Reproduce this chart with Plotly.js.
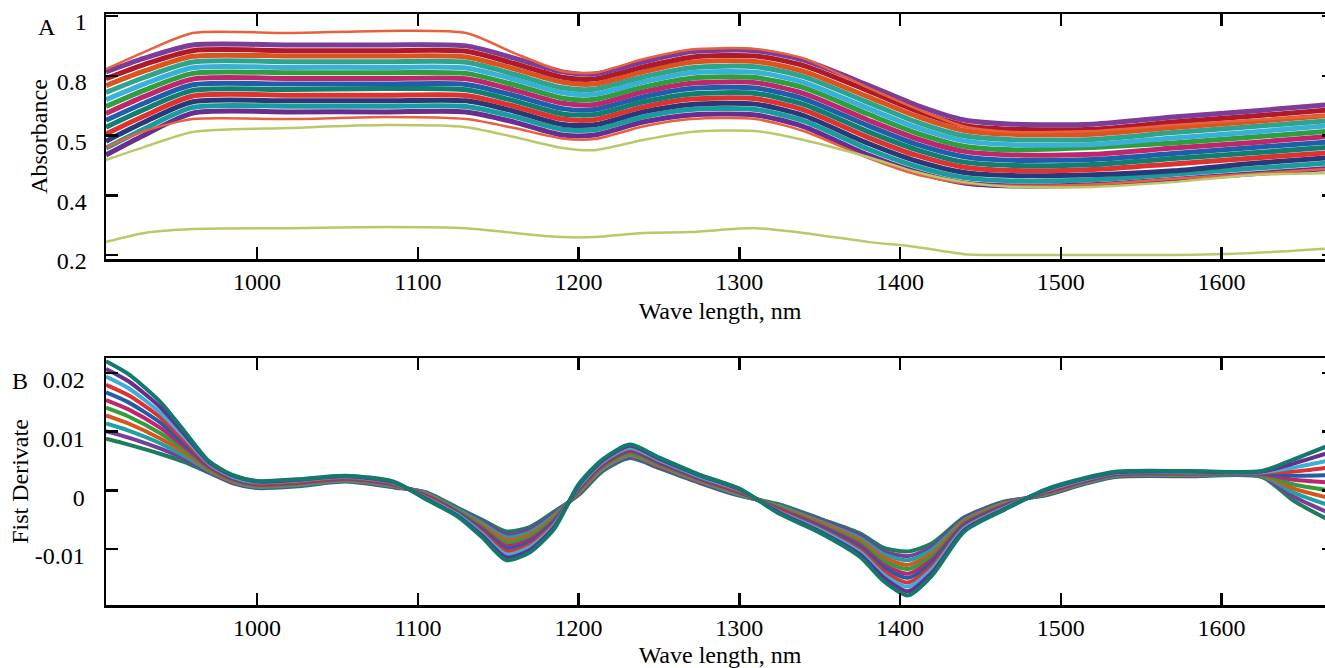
<!DOCTYPE html>
<html>
<head>
<meta charset="utf-8">
<script src="https://cdn.plot.ly/plotly-3.0.1.min.js"></script>
<style>
html,body{margin:0;padding:0;overflow:hidden;background:#fff;}
#chart{width:1340px;height:668px;}
</style>
</head>
<body>
<div id="chart"></div>
<script>
// ---------- Panel A: absorbance spectra ----------
const wlA = [906,930,960,1020,1080,1130,1160,1190,1210,1240,1270,1310,1340,1380,1410,1440,1470,1520,1570,1620,1670];

const sA00 = [.535,.602,.675,.679,.679,.679,.645,.602,.602,.645,.669,.669,.630,.535,.478,.441,.431,.435,.453,.472,.491];
const sA01 = [.558,.623,.694,.698,.698,.697,.663,.620,.619,.662,.687,.687,.649,.555,.497,.459,.448,.452,.470,.490,.509];
const sA02 = [.581,.645,.713,.716,.716,.716,.681,.637,.636,.679,.704,.705,.667,.574,.515,.476,.466,.469,.482,.507,.527];
const sA03 = [.605,.666,.732,.735,.735,.734,.698,.655,.653,.695,.722,.723,.686,.594,.534,.494,.483,.486,.505,.525,.544];
const sA04 = [.628,.688,.751,.754,.757,.753,.716,.672,.670,.712,.739,.741,.704,.613,.553,.511,.500,.503,.523,.542,.562];
const sA05 = [.651,.709,.770,.772,.772,.771,.734,.690,.687,.729,.757,.759,.723,.633,.571,.529,.517,.520,.540,.560,.580];
const sA06 = [.674,.731,.789,.791,.791,.790,.752,.708,.704,.746,.775,.777,.741,.652,.590,.547,.535,.537,.558,.577,.598];
const sA07 = [.697,.752,.808,.810,.810,.808,.770,.725,.721,.762,.792,.794,.760,.672,.609,.564,.552,.560,.575,.595,.616];
const sA08 = [.720,.773,.827,.828,.828,.826,.788,.743,.738,.779,.810,.812,.778,.691,.627,.582,.569,.570,.592,.612,.634];
const sA09 = [.744,.795,.846,.847,.847,.845,.805,.760,.755,.796,.827,.830,.797,.711,.646,.599,.586,.587,.610,.630,.651];
const sA10 = [.767,.816,.865,.866,.866,.863,.823,.778,.772,.813,.845,.848,.815,.730,.665,.617,.604,.604,.627,.647,.669];
const sA11 = [.790,.838,.884,.884,.884,.882,.841,.795,.789,.829,.862,.866,.834,.750,.683,.634,.621,.621,.645,.665,.687];
const sA12 = [.813,.859,.903,.903,.903,.900,.859,.813,.806,.846,.880,.884,.852,.769,.702,.652,.638,.638,.662,.682,.705];

const redTopA   = [.822,.880,.943,.943,.950,.943,.876,.815,.810,.855,.888,.890,.858,.760,.690,.630,.612,.615,.635,.652,.668];
const redLowA   = [.560,.615,.655,.655,.662,.655,.625,.590,.588,.630,.655,.655,.615,.525,.470,.440,.432,.436,.455,.472,.490];
const greenHiA  = [.518,.562,.612,.625,.635,.628,.595,.558,.551,.585,.612,.615,.585,.528,.478,.444,.428,.428,.444,.468,.474];
const greenLowA = [.244,.274,.287,.290,.294,.290,.274,.260,.260,.274,.277,.290,.274,.244,.227,.203,.200,.200,.200,.207,.223];

const bandA = [sA00,sA01,sA02,sA03,sA04,sA05,sA06,sA07,sA08,sA09,sA10,sA11,sA12];
const bandAColors = ['#6a2c91','#1a9c9c','#283a78','#e03030','#0f7f6f','#1f5fa8','#c0266d','#2e9e3e','#3ab0d8','#2ca58d','#d9541e','#b0192a','#7d3c98'];
const outA = [redLowA, greenHiA, greenLowA, redTopA];
const outAColors = ['#e8603c','#b9c96a','#b9c96a','#e8603c'];

const yTicksA = [0.2,0.4,0.6,0.8,1.0];
const yTickTextA = ['0.2','0.4','0.5','0.8','1'];

// ---------- Panel B: first derivative ----------
const wlB = [906,920,940,955,970,985,1000,1025,1055,1085,1105,1125,1140,1155,1170,1185,1200,1215,1232,1250,1275,1300,1325,1350,1375,1390,1405,1420,1440,1465,1490,1515,1535,1580,1625,1645,1670];

const sB00 = [0.0088,0.0078,0.0062,0.0048,0.0030,0.0012,0.0004,0.0007,0.0015,0.0005,-0.0003,-0.0030,-0.0050,-0.0070,-0.0062,-0.0036,-0.0008,0.0033,0.0055,0.0038,0.0013,-0.0009,-0.0024,-0.0048,-0.0073,-0.0098,-0.0104,-0.0090,-0.0046,-0.0019,-0.0009,0.0011,0.0023,0.0024,0.0023,-0.0018,-0.0055];
const sB01 = [0.0101,0.0090,0.0071,0.0053,0.0032,0.0013,0.0005,0.0008,0.0016,0.0006,-0.0004,-0.0032,-0.0053,-0.0075,-0.0066,-0.0039,-0.0006,0.0035,0.0057,0.0040,0.0014,-0.0008,-0.0026,-0.0050,-0.0077,-0.0104,-0.0112,-0.0096,-0.0048,-0.0020,-0.0008,0.0012,0.0024,0.0025,0.0024,-0.0011,-0.0042];
const sB02 = [0.0114,0.0102,0.0080,0.0058,0.0034,0.0015,0.0006,0.0009,0.0017,0.0007,-0.0005,-0.0033,-0.0056,-0.0080,-0.0071,-0.0042,-0.0004,0.0037,0.0060,0.0042,0.0016,-0.0007,-0.0027,-0.0053,-0.0081,-0.0109,-0.0119,-0.0101,-0.0051,-0.0022,-0.0007,0.0013,0.0025,0.0026,0.0025,-0.0004,-0.0028];
const sB03 = [0.0128,0.0114,0.0088,0.0064,0.0036,0.0016,0.0008,0.0011,0.0018,0.0008,-0.0007,-0.0035,-0.0059,-0.0085,-0.0075,-0.0045,-0.0003,0.0039,0.0062,0.0043,0.0017,-0.0005,-0.0029,-0.0055,-0.0085,-0.0115,-0.0127,-0.0107,-0.0053,-0.0023,-0.0006,0.0014,0.0026,0.0027,0.0026,0.0003,-0.0015];
const sB04 = [0.0141,0.0126,0.0097,0.0069,0.0038,0.0018,0.0009,0.0012,0.0019,0.0009,-0.0008,-0.0036,-0.0062,-0.0090,-0.0079,-0.0048,-0.0001,0.0041,0.0064,0.0045,0.0019,-0.0004,-0.0030,-0.0058,-0.0089,-0.0121,-0.0134,-0.0112,-0.0056,-0.0025,-0.0005,0.0015,0.0027,0.0028,0.0027,0.0010,-0.0001];
const sB05 = [0.0154,0.0138,0.0106,0.0074,0.0040,0.0019,0.0010,0.0013,0.0020,0.0010,-0.0009,-0.0038,-0.0065,-0.0095,-0.0084,-0.0051,0.0001,0.0043,0.0067,0.0047,0.0020,-0.0003,-0.0032,-0.0060,-0.0093,-0.0127,-0.0142,-0.0118,-0.0058,-0.0026,-0.0004,0.0016,0.0028,0.0029,0.0028,0.0018,0.0013];
const sB06 = [0.0167,0.0150,0.0115,0.0079,0.0042,0.0020,0.0011,0.0014,0.0021,0.0011,-0.0010,-0.0039,-0.0068,-0.0099,-0.0088,-0.0053,0.0003,0.0045,0.0069,0.0049,0.0021,-0.0002,-0.0034,-0.0062,-0.0097,-0.0132,-0.0149,-0.0123,-0.0060,-0.0027,-0.0003,0.0017,0.0028,0.0029,0.0029,0.0025,0.0026];
const sB07 = [0.0180,0.0162,0.0124,0.0084,0.0044,0.0022,0.0012,0.0015,0.0022,0.0012,-0.0011,-0.0041,-0.0071,-0.0104,-0.0092,-0.0056,0.0005,0.0047,0.0071,0.0051,0.0023,-0.0001,-0.0035,-0.0065,-0.0101,-0.0138,-0.0157,-0.0129,-0.0063,-0.0029,-0.0002,0.0018,0.0029,0.0030,0.0030,0.0032,0.0040];
const sB08 = [0.0194,0.0174,0.0132,0.0090,0.0046,0.0023,0.0014,0.0017,0.0023,0.0013,-0.0013,-0.0042,-0.0074,-0.0109,-0.0096,-0.0059,0.0006,0.0049,0.0073,0.0052,0.0024,0.0001,-0.0037,-0.0067,-0.0105,-0.0144,-0.0164,-0.0134,-0.0065,-0.0030,-0.0001,0.0019,0.0030,0.0031,0.0031,0.0039,0.0053];
const sB09 = [0.0207,0.0186,0.0141,0.0095,0.0048,0.0025,0.0015,0.0018,0.0024,0.0014,-0.0014,-0.0044,-0.0077,-0.0114,-0.0101,-0.0062,0.0008,0.0051,0.0076,0.0054,0.0026,0.0002,-0.0038,-0.0070,-0.0109,-0.0149,-0.0172,-0.0140,-0.0068,-0.0032,0.0000,0.0020,0.0031,0.0032,0.0032,0.0046,0.0067];
const sB10 = [0.0220,0.0198,0.0150,0.0100,0.0050,0.0026,0.0016,0.0019,0.0025,0.0015,-0.0015,-0.0045,-0.0080,-0.0119,-0.0105,-0.0065,0.0010,0.0053,0.0078,0.0056,0.0027,0.0003,-0.0040,-0.0072,-0.0113,-0.0155,-0.0179,-0.0145,-0.0070,-0.0033,0.0001,0.0021,0.0032,0.0033,0.0033,0.0053,0.0080];

const bandB = [sB00,sB01,sB02,sB03,sB04,sB05,sB06,sB07,sB08,sB09,sB10];
const bandBColors = ['#1b7f5f','#7d3c98','#1aa3a3','#d9541e','#2e9e3e','#c0266d','#1f5fa8','#e03030','#3ab0d8','#6a2c91','#127a6a'];

const yTicksB = [-0.01,0,0.01,0.02];
const yTickTextB = ['-0.01','0','0.01','0.02'];

const xTicks = [1000,1100,1200,1300,1400,1500,1600];
const xTickText = ['1000','1100','1200','1300','1400','1500','1600'];

// ---------- traces ----------
const traces = [];
bandA.forEach((s,i) => traces.push({x:wlA, y:s, type:'scatter', mode:'lines', xaxis:'x', yaxis:'y',
  line:{color:bandAColors[i], width:5, shape:'spline', smoothing:0.7}, hoverinfo:'skip', showlegend:false}));
outA.forEach((s,i) => traces.push({x:wlA, y:s, type:'scatter', mode:'lines', xaxis:'x', yaxis:'y',
  line:{color:outAColors[i], width:2.5, shape:'spline', smoothing:0.7}, hoverinfo:'skip', showlegend:false}));
bandB.forEach((s,i) => traces.push({x:wlB, y:s, type:'scatter', mode:'lines', xaxis:'x2', yaxis:'y2',
  line:{color:bandBColors[i], width:4, shape:'spline', smoothing:0.7}, hoverinfo:'skip', showlegend:false}));

const FONT = 'Liberation Serif, Times New Roman, serif';
const FS = 24;
const axisCommon = {
  ticks:'inside', ticklen:12, tickwidth:2.5, tickcolor:'#000',
  showline:true, linewidth:2.5, linecolor:'#000', mirror:'allticks',
  showgrid:false, zeroline:false, tickfont:{family:FONT, size:FS, color:'#000'}
};

const layout = {
  width:1340, height:668,
  margin:{l:106, r:6, t:14, b:63},
  paper_bgcolor:'#fff', plot_bgcolor:'#fff',
  showlegend:false,
  font:{family:FONT, size:FS, color:'#000'},
  xaxis:Object.assign({}, axisCommon, {domain:[0,1], anchor:'y', range:[906,1670],
    tickvals:xTicks, ticktext:xTickText, ticklabelstandoff:0,
    title:{text:'Wave length, nm', font:{family:FONT,size:FS,color:'#000'}, standoff:8}}),
  yaxis:Object.assign({}, axisCommon, {domain:[0.5854,1], anchor:'x', range:[0.1866,1.0067],
    tickvals:yTicksA, ticktext:yTickTextA, ticklabelstandoff:12, ticklabelshift:6,
    title:{text:'Absorbance', font:{family:FONT,size:FS,color:'#000'}, standoff:3}}),
  xaxis2:Object.assign({}, axisCommon, {domain:[0,1], anchor:'y2', range:[906,1670],
    tickvals:xTicks, ticktext:xTickText, ticklabelstandoff:0,
    title:{text:'Wave length, nm', font:{family:FONT,size:FS,color:'#000'}, standoff:8}}),
  yaxis2:Object.assign({}, axisCommon, {domain:[0,0.4179], anchor:'x2', range:[-0.01954,0.02256],
    tickvals:yTicksB, ticktext:yTickTextB, ticklabelstandoff:14, ticklabelshift:7,
    title:{text:'Fist Derivate', font:{family:FONT,size:FS,color:'#000'}, standoff:0}}),
  annotations:[
    {text:'A', xref:'paper', yref:'paper', x:-0.048, y:0.978, xanchor:'center', yanchor:'middle', showarrow:false, font:{family:FONT,size:FS,color:'#000'}},
    {text:'B', xref:'paper', yref:'paper', x:-0.070, y:0.379, xanchor:'center', yanchor:'middle', showarrow:false, font:{family:FONT,size:FS,color:'#000'}}
  ]
};

Plotly.newPlot('chart', traces, layout, {displayModeBar:false, staticPlot:true});
</script>
</body>
</html>
